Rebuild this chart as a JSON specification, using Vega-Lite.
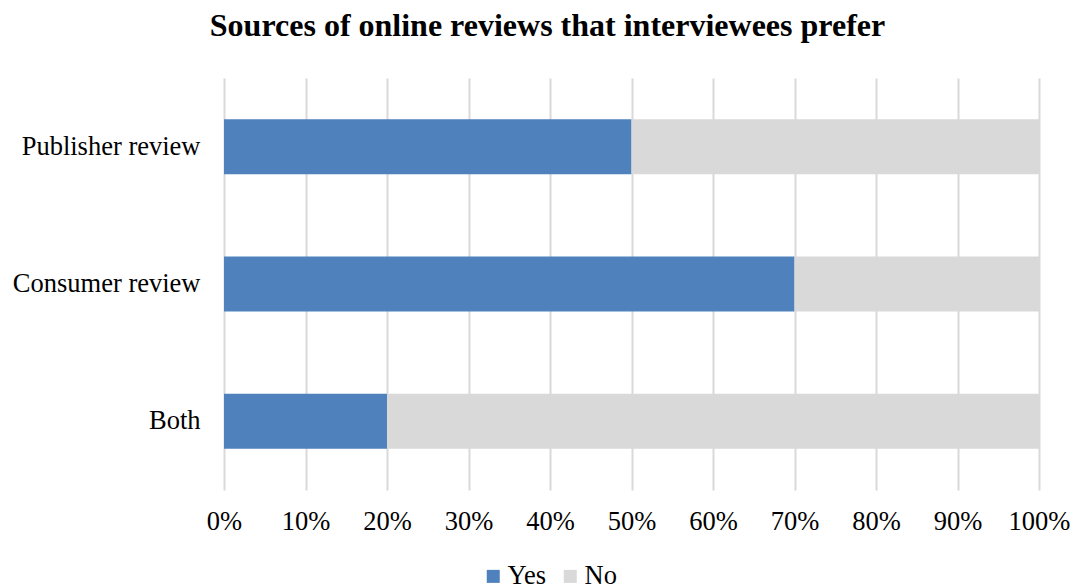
{
  "$schema": "https://vega.github.io/schema/vega-lite/v6.json",
  "autosize": "none",
  "width": 815,
  "height": 412,
  "padding": {"left": 224, "top": 78, "right": 31, "bottom": 96},
  "background": "white",
  "title": {
    "text": "Sources of online reviews that interviewees prefer",
    "font": "Liberation Serif",
    "fontSize": 32,
    "fontWeight": "bold",
    "color": "#000000",
    "anchor": "middle",
    "dx": -84,
    "offset": 35
  },
  "data": {
    "values": [
      {"source": "Publisher review", "response": "Yes", "value": 0.5, "ord": 1},
      {"source": "Publisher review", "response": "No", "value": 0.5, "ord": 2},
      {"source": "Consumer review", "response": "Yes", "value": 0.7, "ord": 1},
      {"source": "Consumer review", "response": "No", "value": 0.3, "ord": 2},
      {"source": "Both", "response": "Yes", "value": 0.2, "ord": 1},
      {"source": "Both", "response": "No", "value": 0.8, "ord": 2}
    ]
  },
  "mark": {"type": "bar"},
  "encoding": {
    "y": {
      "field": "source",
      "type": "nominal",
      "sort": ["Publisher review", "Consumer review", "Both"],
      "scale": {"paddingInner": 0.6, "paddingOuter": 0.3},
      "axis": {
        "title": null,
        "domain": false,
        "ticks": false,
        "labelFont": "Liberation Serif",
        "labelFontSize": 26.5,
        "labelColor": "#000000",
        "labelPadding": 24,
        "labelLimit": 400
      }
    },
    "x": {
      "field": "value",
      "type": "quantitative",
      "stack": "zero",
      "scale": {"domain": [0, 1]},
      "axis": {
        "title": null,
        "format": ".0%",
        "values": [0, 0.1, 0.2, 0.3, 0.4, 0.5, 0.6, 0.7, 0.8, 0.9, 1],
        "domain": false,
        "ticks": false,
        "grid": true,
        "gridColor": "#D9D9D9",
        "gridWidth": 2,
        "labelFont": "Liberation Serif",
        "labelFontSize": 26.5,
        "labelColor": "#000000",
        "labelPadding": 18,
        "labelFlush": false,
        "labelOverlap": false
      }
    },
    "color": {
      "field": "response",
      "type": "nominal",
      "sort": ["Yes", "No"],
      "scale": {"domain": ["Yes", "No"], "range": ["#4F81BD", "#D9D9D9"]},
      "legend": {
        "title": null,
        "orient": "none",
        "direction": "horizontal",
        "legendX": 256,
        "legendY": 485,
        "symbolType": "square",
        "symbolSize": 169,
        "symbolStrokeWidth": 0,
        "labelFont": "Liberation Serif",
        "labelFontSize": 26.5,
        "labelColor": "#000000",
        "labelOffset": 1,
        "columnPadding": 10
      }
    },
    "order": {"field": "ord", "type": "quantitative"}
  },
  "config": {
    "view": {"stroke": null}
  }
}
